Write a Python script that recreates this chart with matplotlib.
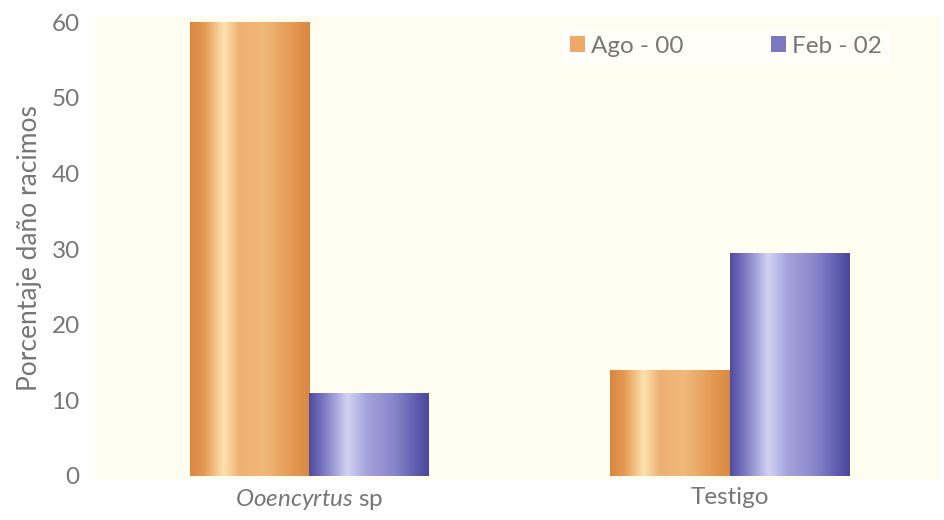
import numpy as np
import matplotlib
matplotlib.use("Agg")
import matplotlib.pyplot as plt
from matplotlib.colors import LinearSegmentedColormap
from matplotlib.patches import Patch

categories = [r"$\mathit{Ooencyrtus}$ sp", "Testigo"]
series_names = ["Ago - 00", "Feb - 02"]
ago_00 = [60, 14]
feb_02 = [11, 29.5]
yticks = [0, 10, 20, 30, 40, 50, 60]

text_color = "#767676"
plt.rcParams["font.family"] = ["Lato", "DejaVu Sans"]
plt.rcParams["mathtext.fontset"] = "custom"
plt.rcParams["mathtext.it"] = "Lato:italic"
plt.rcParams["mathtext.rm"] = "Lato"

orange_cmap = LinearSegmentedColormap.from_list(
    "orange_cyl",
    [(0.0, "#d8873f"), (0.12, "#e69a55"), (0.28, "#fde2ae"), (0.42, "#eeb072"),
     (0.62, "#f0b87a"), (0.85, "#e49a55"), (1.0, "#d9883f")])
blue_cmap = LinearSegmentedColormap.from_list(
    "blue_cyl",
    [(0.0, "#4f4ca0"), (0.12, "#7a78c0"), (0.32, "#d2d2f4"), (0.48, "#a4a4dc"),
     (0.7, "#8a88cc"), (0.9, "#5e5cae"), (1.0, "#4a479c")])

fig = plt.figure(figsize=(9.44, 5.2), dpi=100)
ax = fig.add_axes([0.1006, 0.076, 0.895, 0.893])
ax.set_facecolor("#fffdf0")

x = np.arange(len(categories))
width = 0.284
grad = np.linspace(0, 1, 256).reshape(1, -1)


def cylinder_bars(xpos, values, cmap):
    bars = ax.bar(xpos, values, width, facecolor="none", edgecolor="none", zorder=2)
    for rect in bars:
        x0, y0 = rect.get_x(), rect.get_y()
        im = ax.imshow(grad, cmap=cmap, aspect="auto", interpolation="bicubic",
                       extent=[x0, x0 + rect.get_width(), y0, y0 + rect.get_height()],
                       zorder=2)
        im.set_clip_path(rect)
    return bars


cylinder_bars(x - width / 2, ago_00, orange_cmap)
cylinder_bars(x + width / 2, feb_02, blue_cmap)

ax.set_xlim(-0.51, 1.5)
ax.set_ylim(-0.6, 60.8)
ax.set_yticks(yticks)
ax.set_yticklabels([str(t) for t in yticks])
ax.set_xticks(x)
ax.set_xticklabels(categories)
ax.tick_params(axis="both", length=0, colors=text_color, labelsize=17.5)
ax.tick_params(axis="y", pad=11)
ax.tick_params(axis="x", pad=5)
for s in ax.spines.values():
    s.set_visible(False)

ax.set_ylabel("Porcentaje daño racimos", color=text_color, fontsize=19, labelpad=7)

handles = [Patch(facecolor="#eea968", edgecolor="none"),
           Patch(facecolor="#7b78c2", edgecolor="none")]
leg = ax.legend(handles, series_names, ncol=2, loc="upper right",
                bbox_to_anchor=(0.957, 1.005), frameon=True, fontsize=17.5,
                handlelength=0.6, handleheight=0.6, handletextpad=0.25,
                columnspacing=3.6, labelcolor=text_color)
leg.get_frame().set_facecolor("white")
leg.get_frame().set_edgecolor("none")
leg.get_frame().set_alpha(0.6)

fig.savefig("out.png", dpi=100, facecolor="white")
